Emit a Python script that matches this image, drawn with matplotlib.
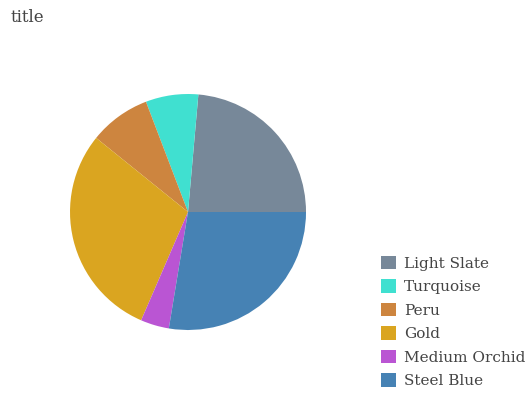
import numpy as np
import matplotlib
matplotlib.use('Agg')
import matplotlib.pyplot as plt
from matplotlib.patches import Patch

plt.rcParams['font.family'] = 'DejaVu Serif'

# dados da pizza
categorias = ['Light Slate', 'Turquoise', 'Peru', 'Gold', 'Medium Orchid', 'Steel Blue']
valores = [23.6, 7.2, 8.4, 29.3, 3.9, 27.6]
cores = ['#778899', '#40E0D0', '#CD853F', '#DAA520', '#BA55D3', '#4682B4']

fig = plt.figure(figsize=(5.32, 4.0), dpi=100)
ax = fig.add_axes([0.1316, 0.175, 0.4436, 0.59])
ax.pie(valores, colors=cores, startangle=0, counterclock=True)
ax.set_xlim(-1, 1)
ax.set_ylim(-1, 1)
ax.set_aspect('equal')

fig.text(0.019, 0.955, 'title', fontsize=12, color='#444444', va='center')

handles = [Patch(facecolor=c, label=l) for c, l in zip(cores, categorias)]
fig.legend(handles=handles, loc='upper left', bbox_to_anchor=(0.69, 0.395),
           frameon=False, fontsize=11, handlelength=1.0, handleheight=1.0,
           labelspacing=0.55, handletextpad=0.5, labelcolor='#444444')

fig.savefig('out.png', dpi=100)
